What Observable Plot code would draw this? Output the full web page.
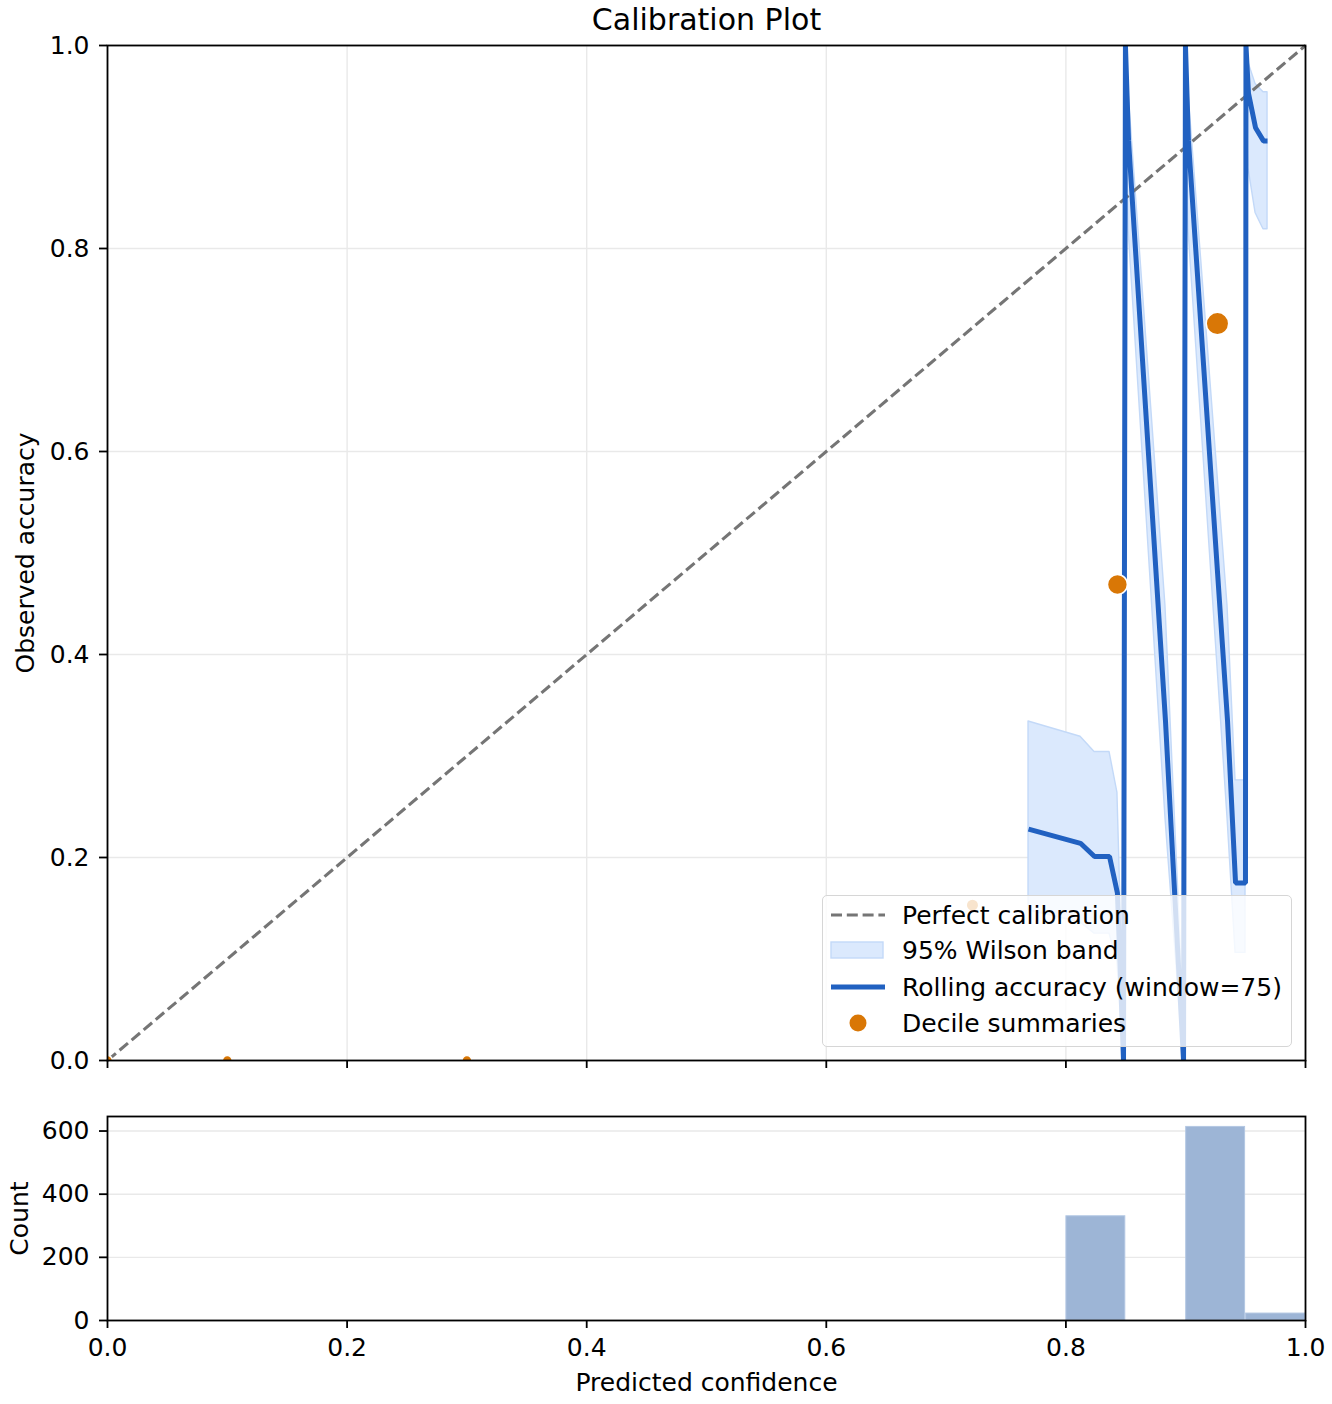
<!DOCTYPE html>
<html>
<head>
<meta charset="utf-8">
<script src="https://cdn.jsdelivr.net/npm/d3@7"></script>
<script src="https://cdn.jsdelivr.net/npm/@observablehq/plot@0.6"></script>
<style>
  html, body { margin: 0; padding: 0; background: white; }
  #wrap { position: relative; width: 1332px; height: 1404px; font-family: "DejaVu Sans", sans-serif; }
  #wrap svg { display: block; }
  #legend { position: absolute; left: 822px; top: 895px; width: 468px; height: 150px;
            background: rgba(255,255,255,0.8); border: 1.5px solid #d6d6d6; border-radius: 5px; }
</style>
</head>
<body>
<div id="wrap"></div>
<script>
// ---------- data ----------
const xTicks = [0, 0.2, 0.4, 0.6, 0.8, 1.0];
const yTicks = [0, 0.2, 0.4, 0.6, 0.8, 1.0];
const countTicks = [0, 200, 400, 600];

// rolling accuracy (window = 75) and 95% Wilson band
const rollConf = [0.7688, 0.8122, 0.8239, 0.8364, 0.843, 0.8481, 0.8497, 0.8523, 0.8831, 0.8982,
                  0.8998, 0.9023, 0.9349, 0.9416, 0.9499, 0.9503, 0.9524, 0.9583, 0.9649, 0.9683];
const rollAcc  = [0.228, 0.214, 0.201, 0.201, 0.165, 0.0, 1.0, 0.906, 0.335, 0.0,
                  1.0, 0.906, 0.335, 0.175, 0.175, 1.0, 0.953, 0.919, 0.906, 0.906];
const bandLo   = [0.148, 0.136, 0.125, 0.125, 0.097, 0.0, 0.951, 0.819, 0.239, 0.0,
                  0.951, 0.819, 0.239, 0.106, 0.106, 0.951, 0.879, 0.835, 0.819, 0.819];
const bandHi   = [0.334, 0.319, 0.304, 0.304, 0.264, 0.049, 1.0, 0.954, 0.448, 0.049,
                  1.0, 0.954, 0.448, 0.276, 0.276, 1.0, 0.983, 0.962, 0.954, 0.954];

// decile summaries
const decileConf  = [0.0, 0.1, 0.3, 0.722, 0.843, 0.9265];
const decileAcc   = [0.0, 0.0, 0.0, 0.153, 0.469, 0.726];
const decileCount = [124, 124, 124, 197, 497, 635];

// histogram of predicted confidence
const binStart = [0.80, 0.90, 0.95];
const binEnd   = [0.85, 0.95, 1.00];
const binCount = [330, 613, 22];

// ---------- tables ----------
const rolling = rollConf.map((x, i) => ({x, y: rollAcc[i], lo: bandLo[i], hi: bandHi[i]}));
const deciles = decileConf.map((x, i) => ({x, y: decileAcc[i], n: decileCount[i]}));
const bins = binStart.map((a, i) => ({a, b: binEnd[i], c: binCount[i]}));
const diag = [{x: 0, y: 0}, {x: 1, y: 1}];

const FONT = "DejaVu Sans";
const FS = 25;
const gridColor = "#e9e9e9";
const blue = "#2161c1";
const orange = "#d97706";
const bandFill = "#dbe9fd";
const bandStroke = "#c3d9f8";
const dash = "11,4.8";

const main = Plot.plot({
  width: 1332, height: 1080,
  marginLeft: 107, marginRight: 27, marginTop: 45, marginBottom: 20,
  style: {fontFamily: FONT, fontSize: FS + "px", color: "black", background: "white", overflow: "visible"},
  x: {domain: [0, 1]},
  y: {domain: [0, 1]},
  r: {type: "sqrt", domain: [0, 635], range: [0, 11.3]},
  marks: [
    Plot.gridX(xTicks, {stroke: gridColor, strokeOpacity: 1, strokeWidth: 1.4}),
    Plot.gridY(yTicks, {stroke: gridColor, strokeOpacity: 1, strokeWidth: 1.4}),
    Plot.areaY(rolling, {x: "x", y1: "lo", y2: "hi", fill: bandFill, stroke: bandStroke, strokeWidth: 1.4, clip: true, curve: "linear"}),
    Plot.line(diag, {x: "x", y: "y", stroke: "#757575", strokeWidth: 3.1, strokeDasharray: dash, strokeLinecap: "butt"}),
    Plot.line(rolling, {x: "x", y: "y", stroke: blue, strokeWidth: 5, clip: true, strokeLinejoin: "miter", strokeLinecap: "butt"}),
    Plot.dot(deciles, {x: "x", y: "y", r: "n", fill: orange, stroke: "white", strokeWidth: 1.6, clip: true}),
    Plot.frame({stroke: "black", strokeWidth: 1.8}),
    Plot.axisX(xTicks, {tickSize: 8, strokeWidth: 1.8, tickFormat: () => "", label: null}),
    Plot.axisY(yTicks, {tickSize: 8, tickPadding: 10, strokeWidth: 1.8, tickFormat: d => d.toFixed(1), label: null, fontSize: FS}),
    Plot.text(["Observed accuracy"], {frameAnchor: "left", dx: -82, rotate: -90, textAnchor: "middle", lineAnchor: "middle", fontSize: FS, fill: "black"}),
    Plot.text(["Calibration Plot"], {frameAnchor: "top", dy: -25, textAnchor: "middle", lineAnchor: "middle", fontSize: 30, fill: "black"})
  ]
});

const hist = Plot.plot({
  width: 1332, height: 324,
  marginLeft: 107, marginRight: 27, marginTop: 36, marginBottom: 84,
  style: {fontFamily: FONT, fontSize: FS + "px", color: "black", background: "white", overflow: "visible"},
  x: {domain: [0, 1]},
  y: {domain: [0, 646]},
  marks: [
    Plot.gridY(countTicks, {stroke: gridColor, strokeOpacity: 1, strokeWidth: 1.4}),
    Plot.rectY(bins, {x1: "a", x2: "b", y: "c", fill: "#9db5d6", stroke: "#b3c7e3", strokeWidth: 1, insetLeft: 0.5, insetRight: 0.5}),
    Plot.frame({stroke: "black", strokeWidth: 1.8}),
    Plot.axisX(xTicks, {tickSize: 8, tickPadding: 10, strokeWidth: 1.8, tickFormat: d => d.toFixed(1), label: null, fontSize: FS}),
    Plot.axisY(countTicks, {tickSize: 8, tickPadding: 10, strokeWidth: 1.8, tickFormat: d => String(d), label: null, fontSize: FS}),
    Plot.text(["Count"], {frameAnchor: "left", dx: -88, rotate: -90, textAnchor: "middle", lineAnchor: "middle", fontSize: FS, fill: "black"}),
    Plot.text(["Predicted confidence"], {frameAnchor: "bottom", dy: 62, textAnchor: "middle", lineAnchor: "middle", fontSize: FS, fill: "black"})
  ]
});

const wrap = document.getElementById("wrap");
wrap.appendChild(main);
wrap.appendChild(hist);

// legend (inside the main axes, lower right)
const legend = document.createElement("div");
legend.id = "legend";
const items = [
  {label: "Perfect calibration", kind: "dash"},
  {label: "95% Wilson band", kind: "band"},
  {label: "Rolling accuracy (window=75)", kind: "line"},
  {label: "Decile summaries", kind: "dot"}
];
const rowY = [19, 54, 91, 127];
let svg = `<svg width="468" height="150" xmlns="http://www.w3.org/2000/svg" style="font-family:'DejaVu Sans';font-size:${FS}px">`;
items.forEach((it, i) => {
  const cy = rowY[i];
  if (it.kind === "dash") svg += `<line x1="8" x2="62" y1="${cy}" y2="${cy}" stroke="#757575" stroke-width="3.1" stroke-dasharray="${dash}"/>`;
  if (it.kind === "band") svg += `<rect x="8" y="${cy - 8}" width="52" height="16" fill="${bandFill}" stroke="${bandStroke}" stroke-width="1.4"/>`;
  if (it.kind === "line") svg += `<line x1="8" x2="62" y1="${cy}" y2="${cy}" stroke="${blue}" stroke-width="5"/>`;
  if (it.kind === "dot") svg += `<circle cx="35" cy="${cy}" r="8.5" fill="${orange}"/>`;
  svg += `<text x="79" y="${cy}" dy="0.35em" fill="black">${it.label}</text>`;
});
svg += `</svg>`;
legend.innerHTML = svg;
wrap.appendChild(legend);
</script>
</body>
</html>
